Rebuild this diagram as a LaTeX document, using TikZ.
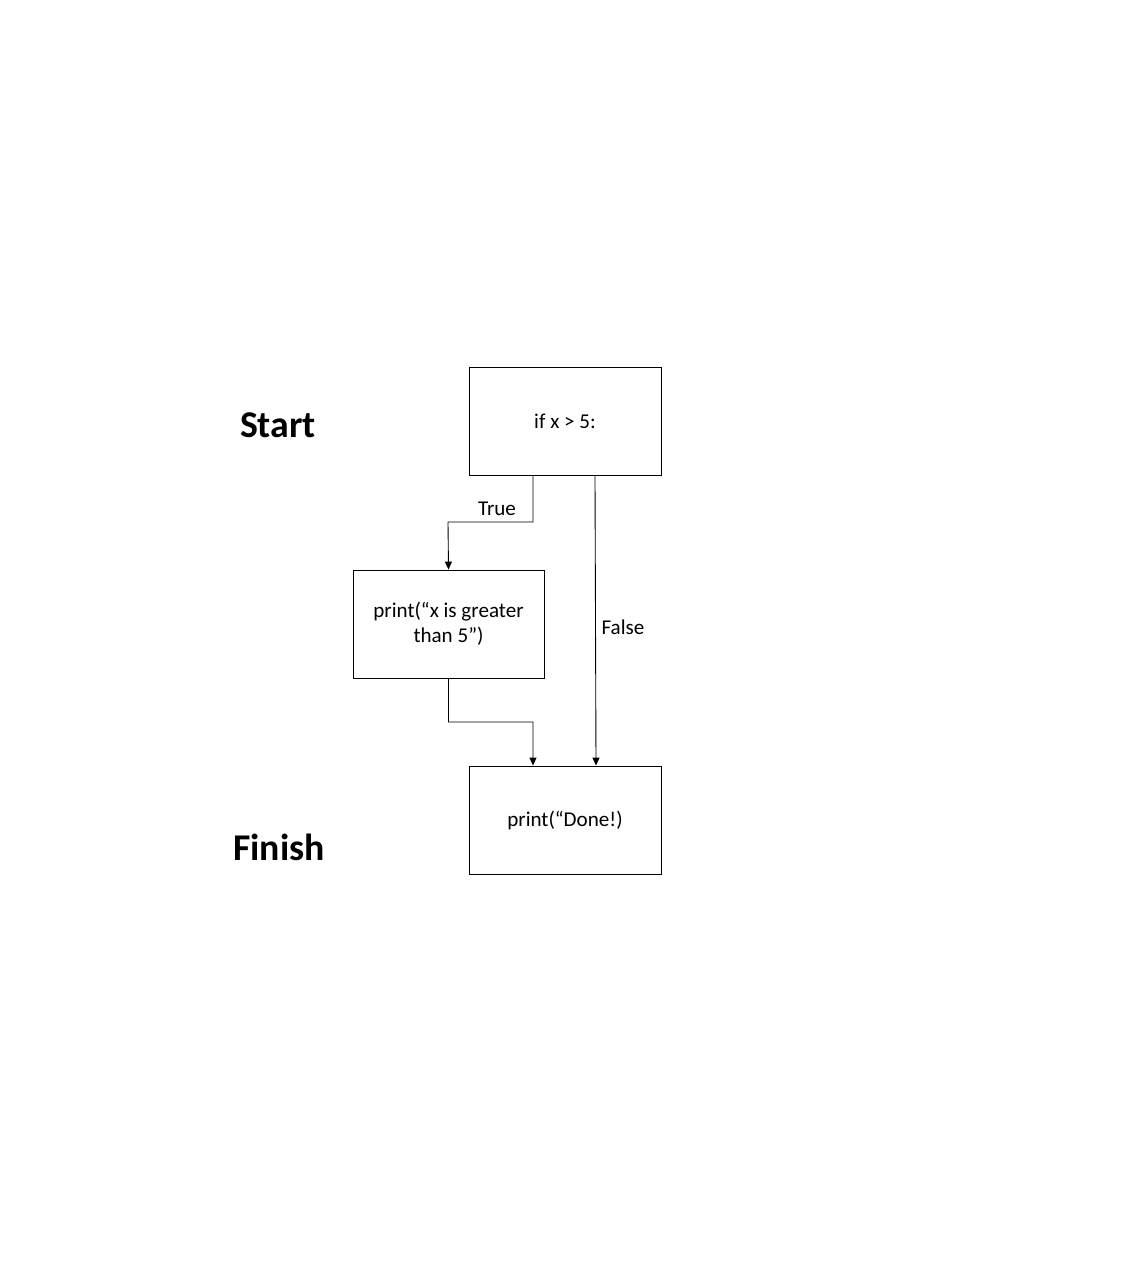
\documentclass[tikz,border=0pt]{standalone}
\usepackage{fontspec}
\setmainfont{Carlito}
\usetikzlibrary{arrows.meta}
\tikzset{
	stepbox/.style={draw, line width=0.5pt, minimum width=3.84cm, minimum height=2.16cm, inner sep=0pt, align=center, font=\fontsize{12}{14.4}\selectfont},
	flow/.style={line width=0.5pt, -{Triangle[length=1.6mm, width=1.4mm]}},
	flowlabel/.style={font=\fontsize{12}{14.4}\selectfont},
	phase/.style={font=\fontsize{21.5}{25}\selectfont\bfseries}
}

\begin{document}
\begin{tikzpicture}[x=0.02cm, y=-0.02cm]
				\useasboundingbox (0,0) rectangle (1134,1280);
				
				\node[phase] (start) at (278, 425) {Start};
				\node[phase] (finish) at (279, 847) {Finish};
				
				\node[stepbox] (cond) at (565, 421) {if x > 5:};
				\node[stepbox, minimum width=3.82cm] (body) at (448.5, 624) {print(“x is greater\\than 5”)};
				\node[stepbox] (done) at (565, 820) {print(“Done!)};
				
				\coordinate (trueout) at ([xshift=-0.64cm]cond.south);
				\coordinate (falseout) at ([xshift=0.60cm]cond.south);
				\coordinate (truein) at ([xshift=-0.64cm]done.north);
				\coordinate (falsein) at ([xshift=0.62cm]done.north);
				
				\draw[flow] (trueout) |- (448, 522) -- (body.north);
				\draw[flow] (body.south) |- (533, 722) -- (truein);
				\draw[flow] (falseout) -- (falsein);
				
				\node[flowlabel] (truelabel) at (497, 509) {True};
				\node[flowlabel] (falselabel) at (623, 627) {False};
			\end{tikzpicture}
\end{document}
